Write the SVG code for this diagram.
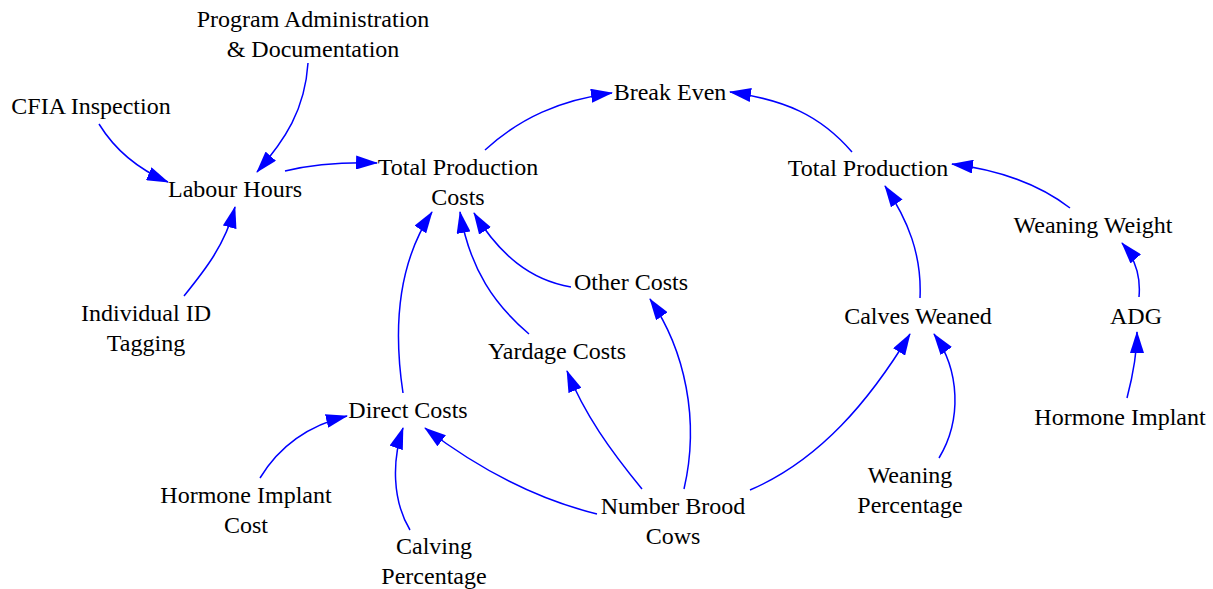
<svg xmlns="http://www.w3.org/2000/svg" width="1213" height="589" viewBox="0 0 1213 589">
<defs>
<style>
text{font-family:"Liberation Serif","Times New Roman",serif;font-size:24px;fill:#000;text-anchor:middle}
.e{fill:none;stroke:#0000ff;stroke-width:1.5;marker-end:url(#ah)}
</style>
<marker id="ah" markerUnits="userSpaceOnUse" markerWidth="22" markerHeight="14" refX="21" refY="7" orient="auto" viewBox="0 0 22 14">
<path d="M0,0 L22,7 L0,14 z" fill="#0000ff"/>
</marker>
</defs>
<rect width="1213" height="589" fill="#fff"/>
<g id="connectors">
<path class="e" d="M308,63 C305,110 285,140 257,172"/>
<path class="e" d="M99,124 C115,150 140,170 168,182"/>
<path class="e" d="M285,171 C310,165 340,162 377,163"/>
<path class="e" d="M184,296 C205,270 225,245 235,207"/>
<path class="e" d="M485,150 C520,118 560,100 612,93"/>
<path class="e" d="M852,152 C820,115 785,100 730,92"/>
<path class="e" d="M1070,208 C1040,185 1000,170 952,164"/>
<path class="e" d="M1139,297 C1141,275 1135,258 1122,243"/>
<path class="e" d="M920,298 C922,255 908,220 885,186"/>
<path class="e" d="M403,393 C392,320 400,260 432,212"/>
<path class="e" d="M529,334 C495,305 470,270 460,212"/>
<path class="e" d="M571,287 C530,280 500,255 474,213"/>
<path class="e" d="M684,489 C700,420 685,350 650,299"/>
<path class="e" d="M642,489 C610,450 585,415 567,371"/>
<path class="e" d="M597,514 C540,500 480,470 425,428"/>
<path class="e" d="M260,478 C280,445 310,425 347,416"/>
<path class="e" d="M410,530 C392,500 392,460 403,428"/>
<path class="e" d="M750,490 C820,460 870,400 910,334"/>
<path class="e" d="M939,458 C962,420 960,370 934,334"/>
<path class="e" d="M1127,398 C1133,375 1137,355 1137,332"/>
</g>
<g id="program-admin"><text x="313" y="27">Program Administration</text><text x="313" y="57">&amp; Documentation</text></g>
<g id="cfia"><text x="91" y="114">CFIA Inspection</text></g>
<g id="labour-hours"><text x="235" y="197">Labour Hours</text></g>
<g id="total-production-costs"><text x="458" y="175">Total Production</text><text x="458" y="205">Costs</text></g>
<g id="break-even"><text x="670" y="100">Break Even</text></g>
<g id="total-production"><text x="868" y="176">Total Production</text></g>
<g id="weaning-weight"><text x="1093" y="233">Weaning Weight</text></g>
<g id="other-costs"><text x="631" y="290">Other Costs</text></g>
<g id="calves-weaned"><text x="918" y="324">Calves Weaned</text></g>
<g id="adg"><text x="1136" y="324">ADG</text></g>
<g id="individual-id"><text x="146" y="321">Individual ID</text><text x="146" y="351">Tagging</text></g>
<g id="yardage-costs"><text x="557" y="359">Yardage Costs</text></g>
<g id="direct-costs"><text x="408" y="418">Direct Costs</text></g>
<g id="hormone-implant"><text x="1120" y="425">Hormone Implant</text></g>
<g id="hormone-implant-cost"><text x="246" y="503">Hormone Implant</text><text x="246" y="533">Cost</text></g>
<g id="calving-percentage"><text x="434" y="554">Calving</text><text x="434" y="584">Percentage</text></g>
<g id="number-brood-cows"><text x="673" y="514">Number Brood</text><text x="673" y="544">Cows</text></g>
<g id="weaning-percentage"><text x="910" y="483">Weaning</text><text x="910" y="513">Percentage</text></g>
</svg>
